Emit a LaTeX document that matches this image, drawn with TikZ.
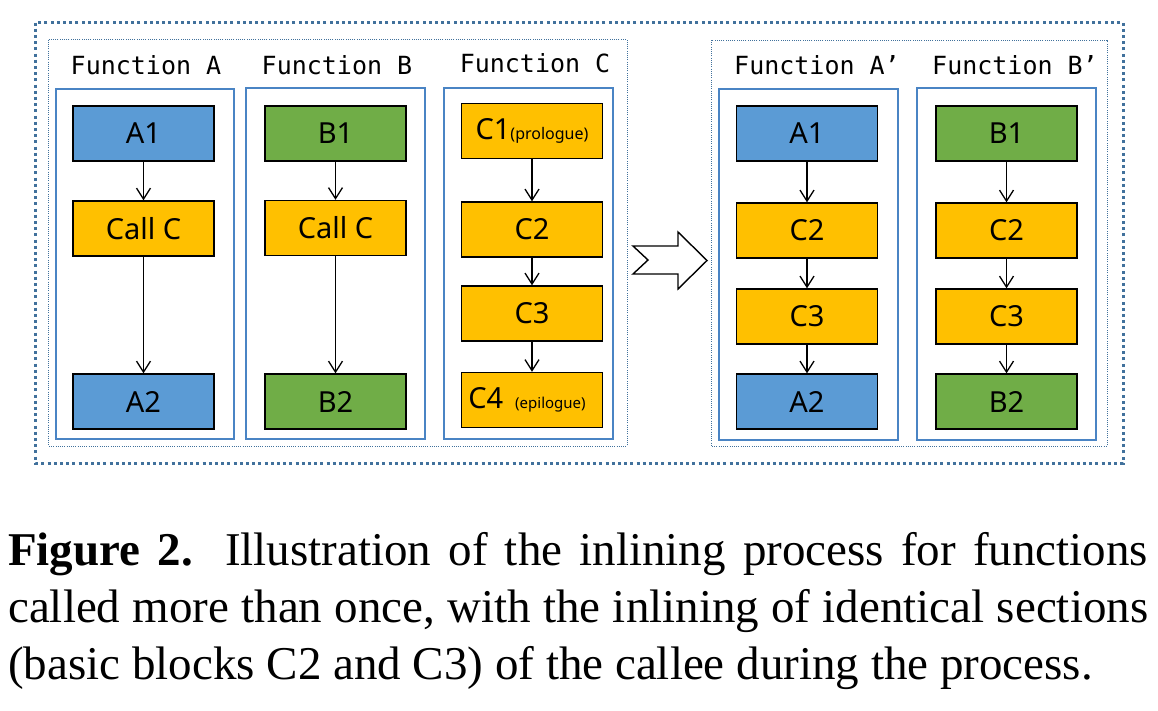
\documentclass[tikz,border=0pt]{standalone}
\usepackage{fontspec}
\setmainfont{Liberation Serif}
\setsansfont{Noto Sans}
\setmonofont{DejaVu Sans Mono}
\usetikzlibrary{arrows.meta}
\definecolor{bfill}{HTML}{5B9BD5}
\definecolor{gfill}{HTML}{70AD47}
\definecolor{ofill}{HTML}{FFC000}
\definecolor{fline}{HTML}{4A84C4}
\definecolor{dline}{HTML}{41719C}
\begin{document}
\begin{tikzpicture}[x=1pt,y=-1pt,
  blk/.style={draw=black, line width=1.4pt, minimum width=141pt, minimum height=55pt, inner sep=0pt, font=\sffamily\fontsize{29}{32}\selectfont},
  bblk/.style={blk, fill=bfill},
  gblk/.style={blk, fill=gfill},
  oblk/.style={blk, fill=ofill},
  fbox/.style={draw=fline, line width=1.4pt},
  outerdot/.style={draw=dline, line width=3pt, dash pattern=on 3pt off 3.2pt},
  innerdot/.style={draw=dline, line width=1pt, dash pattern=on 1pt off 1.2pt},
  flabel/.style={anchor=base, font=\ttfamily\fontsize{25}{28}\selectfont, inner sep=0pt},
  arr/.style={draw=black, line width=1.3pt, -{Straight Barb[length=11pt,width=14pt,line width=1.3pt]}},
  capline/.style={anchor=base west, inner sep=0pt, font=\rmfamily\fontsize{47}{57}\selectfont}
]
\useasboundingbox (0,0) rectangle (1158,710);

% dotted frames
\draw[outerdot] (35.5,22.5) rectangle (1123,463);
\draw[innerdot] (48.5,39.5) rectangle (627,446);
\draw[innerdot] (711,40) rectangle (1107,446);

% function boxes
\draw[fbox] (56,89) rectangle (234,439);
\draw[fbox] (246,88) rectangle (425,439);
\draw[fbox] (444,88) rectangle (613,439);
\draw[fbox] (719,89) rectangle (898,440);
\draw[fbox] (917,88) rectangle (1096,440);

% labels
\node[flabel] (lA) at (146,74) {Function A};
\node[flabel] (lB) at (337,74) {Function B};
\node[flabel] (lC) at (535,72.5) {Function C};
\node[flabel] (lAp) at (817,74) {Function A’};
\node[flabel] (lBp) at (1015,74) {Function B’};

% Function A
\node[bblk] (a1) at (143.5,133.5) {A1};
\node[oblk] (acall) at (143.5,228.5) {Call C};
\node[bblk] (a2) at (143.5,401.5) {A2};
% Function B
\node[gblk] (b1) at (335.5,133.5) {B1};
\node[oblk] (bcall) at (335.5,228) {Call C};
\node[gblk] (b2) at (335.5,401.5) {B2};
% Function C
\node[oblk] (c1) at (532,131) {C1{\fontsize{16}{18}\selectfont(prologue)}};
\node[oblk] (c2) at (532,229.5) {C2};
\node[oblk] (c3) at (532,313.5) {C3};
\node[oblk] (c4) at (532,400) {\hspace{-10pt}C4\hspace{12pt}{\fontsize{15}{16}\selectfont(epilogue)}};
% Function A'
\node[bblk] (pa1) at (807,133.5) {A1};
\node[oblk] (pac2) at (807,230.5) {C2};
\node[oblk] (pac3) at (807,316.5) {C3};
\node[bblk] (pa2) at (807,401.5) {A2};
% Function B'
\node[gblk] (pb1) at (1006.5,133.5) {B1};
\node[oblk] (pbc2) at (1006.5,230.5) {C2};
\node[oblk] (pbc3) at (1006.5,316.5) {C3};
\node[gblk] (pb2) at (1006.5,401.5) {B2};

% connectors
\draw[arr] (a1) -- (acall);
\draw[arr] (acall) -- (a2);
\draw[arr] (b1) -- (bcall);
\draw[arr] (bcall) -- (b2);
\draw[arr] (c1) -- (c2);
\draw[arr] (c2) -- (c3);
\draw[arr] (c3) -- (c4);
\draw[arr] (pa1) -- (pac2);
\draw[arr] (pac2) -- (pac3);
\draw[arr] (pac3) -- (pa2);
\draw[arr] (pb1) -- (pbc2);
\draw[arr] (pbc2) -- (pbc3);
\draw[arr] (pbc3) -- (pb2);

% big hollow arrow
\draw[black, line width=1.4pt, line join=miter, fill=white] (633,246) -- (678,246) -- (678,232) -- (707,260.5) -- (678,289) -- (678,274) -- (633,274) -- (648,260) -- cycle;

% caption
\node[capline] (cap1) at (8,565) {\makebox[1140pt][s]{\textbf{Figure 2.} Illustration of the inlining process for functions}};
\node[capline] (cap2) at (8,622) {\makebox[1140pt][s]{called more than once, with the inlining of identical sections}};
\node[capline] (cap3) at (8,679) {(basic blocks C2 and C3) of the callee during the process.};
\end{tikzpicture}
\end{document}
